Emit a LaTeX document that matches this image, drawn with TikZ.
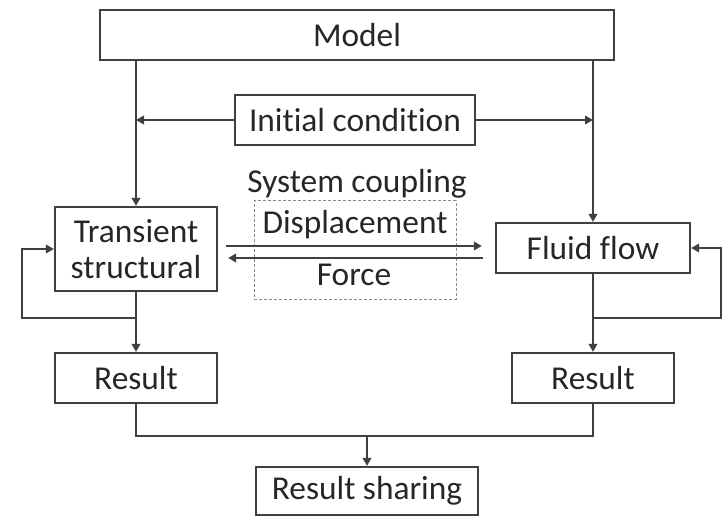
\documentclass[tikz,border=0pt]{standalone}
\usepackage{fontspec}
\setmainfont{Carlito}[Ligatures={NoCommon,NoContextual}]
\usetikzlibrary{arrows.meta}
\definecolor{ink}{HTML}{262626}
\definecolor{edge}{HTML}{404040}
\definecolor{dash}{HTML}{8A8A8A}
\begin{document}
\begin{tikzpicture}[x=1pt,y=-1pt,
  every node/.style={font=\fontsize{33.4}{36.7}\selectfont, text=ink},
  box/.style={draw=edge, line width=2.2pt, inner sep=0pt, align=center},
  lbl/.style={inner sep=0pt},
  link/.style={draw=edge, line width=2pt},
  arr/.style={link, -{Triangle[length=8pt,width=8.5pt]}},
]
\useasboundingbox (0,0) rectangle (726,516);

% blocks
\node[box, minimum width=514pt, minimum height=50pt] (model) at (357,35) {Model};
\node[box, minimum width=240pt, minimum height=50pt] (init)  at (355,120) {Initial condition};
\node[box, minimum width=162pt, minimum height=84pt] (trans) at (136,249) {Transient\\structural};
\node[box, minimum width=194pt, minimum height=50pt] (fluid) at (593,248) {Fluid flow};
\node[box, minimum width=162pt, minimum height=50pt] (resL)  at (136,378) {Result};
\node[box, minimum width=162pt, minimum height=50pt] (resR)  at (593,378) {Result};
\node[box, minimum width=222pt, minimum height=48pt] (share) at (367,491) {Result sharing};

% system coupling group
\node[lbl] (sc)    at (357,184) {System coupling};
\node[draw=dash, line width=1pt, densely dashed, minimum width=202pt, minimum height=98pt, inner sep=0pt]
      (scbox) at (355,250) {};
\node[lbl] (disp)  at (355,225) {Displacement};
\node[lbl] (force) at (354,275) {Force};

% model to solvers
\draw[arr] (model.south -| trans.north) -- (trans.north);
\draw[arr] (model.south -| fluid.north) -- (fluid.north);

% initial condition
\draw[arr] (init.west) -- (init.west -| trans.north);
\draw[arr] (init.east) -- (init.east -| fluid.north);

% data exchange (yshift is in page direction: positive is up)
\coordinate (dispS) at ([xshift=8pt,yshift=3pt]trans.east);
\coordinate (dispE) at ([xshift=-13pt]dispS -| fluid.west);
\coordinate (forS)  at ([xshift=-12pt,yshift=-9pt]trans.east -| fluid.west);
\coordinate (forE)  at ([xshift=10pt]forS -| trans.east);
\draw[arr] (dispS) -- (dispE);
\draw[arr] (forS) -- (forE);

% solver outputs and iteration loops
\draw[arr] (trans.south) -- (resL.north);
\draw[arr] (fluid.south) -- (resR.north);
\coordinate (jL) at (136,318);
\coordinate (jR) at (593,318);
\draw[arr] (jL) -- ++(-114,0) |- (trans.west);
\draw[arr] (jR) -- ++(128,0) |- (fluid.east);

% merging results
\coordinate (jB) at ([yshift=-32pt]resL.south);
\draw[link] (resL.south) -- (jB) -| (resR.south);
\draw[arr] (jB -| share.north) -- (share.north);
\end{tikzpicture}
\end{document}
